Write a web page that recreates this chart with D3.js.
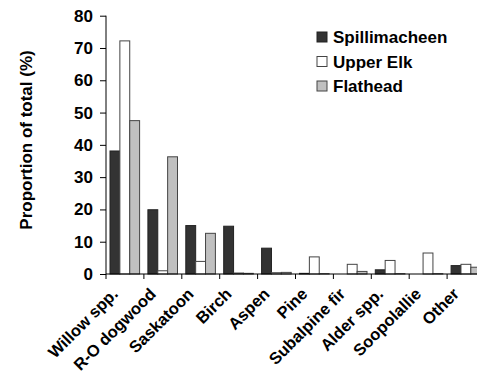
<!DOCTYPE html>
<html><head><meta charset="utf-8">
<script src="https://cdn.jsdelivr.net/npm/d3@7"></script>
<style>body{margin:0;background:#fff;} svg{display:block;font-family:Arial,"Liberation Sans",sans-serif;}</style>
</head><body>
<svg id="c" width="477" height="381"></svg>
<script>
const categories = ["Willow spp.","R-O dogwood","Saskatoon","Birch","Aspen","Pine","Subalpine fir","Alder spp.","Soopolallie","Other"];
const seriesNames = ["Spillimacheen","Upper Elk","Flathead"];
const spillimacheen = [38.1,19.9,15.0,14.8,8.0,0.2,0,1.3,0,2.6];
const upperElk = [72.2,1.0,3.9,0.3,0.4,5.3,3.0,4.2,6.5,3.0];
const flathead = [47.5,36.3,12.6,0.2,0.5,0.1,0.8,0.1,0.1,2.1];
const yTicks = [0,10,20,30,40,50,60,70,80];

const seriesValues = [spillimacheen, upperElk, flathead];
const fills = ["#333333","#ffffff","#c0c0c0"];
const strokes = ["#222222","#444444","#444444"];

const svg = d3.select("#c");
const y = d3.scaleLinear().domain([0,80]).range([274,15.7]);
const x = d3.scaleBand().domain(categories).range([106,106+37.9*10]).padding(0);
const xs = d3.scaleBand().domain(seriesNames).range([4,33.6]).padding(0);

// bars
const g = svg.append("g");
categories.forEach((c,i)=>{
  seriesNames.forEach((s,j)=>{
    const v = seriesValues[j][i];
    g.append("rect")
      .attr("x", x(c)+xs(s))
      .attr("y", y(v))
      .attr("width", xs.bandwidth())
      .attr("height", Math.max(0, y(0)-y(v)))
      .attr("fill", fills[j])
      .attr("stroke", strokes[j])
      .attr("stroke-width", 1);
  });
});

// y axis
const yAxis = svg.append("g").attr("transform","translate(106,0)")
  .call(d3.axisLeft(y).tickValues(yTicks).tickSize(6).tickPadding(7));
yAxis.selectAll("text").attr("font-size",17).attr("font-weight","bold").attr("fill","#000").attr("font-family","Arial, 'Liberation Sans', sans-serif");
yAxis.selectAll("line,path").attr("stroke","#000");
yAxis.select(".domain").attr("d","M0,274V15.7");

// x axis
const xAxisG = svg.append("g").attr("transform","translate(0,274)");
xAxisG.append("line").attr("x1",106).attr("x2",106+37.9*10).attr("stroke","#000");
xAxisG.selectAll("line.t").data(categories.concat(["_end"])).enter().append("line")
  .attr("class","t")
  .attr("x1",(d,i)=> 106 + i*x.bandwidth())
  .attr("x2",(d,i)=> 106 + i*x.bandwidth())
  .attr("y1",0).attr("y2",5).attr("stroke","#000");

svg.append("g").selectAll("text").data(categories).enter().append("text")
  .attr("transform", d=>`translate(${x(d)+x.bandwidth()/2-6},295) rotate(-45)`)
  .attr("text-anchor","end")
  .attr("font-size",16.5).attr("font-weight","bold")
  .text(d=>d);

// y title
svg.append("text")
  .attr("transform","translate(32,140) rotate(-90)")
  .attr("text-anchor","middle")
  .attr("font-size",17).attr("font-weight","bold")
  .text("Proportion of total (%)");

// legend
const lg = svg.append("g");
seriesNames.forEach((s,j)=>{
  const cy = 37 + j*24.5;
  lg.append("rect").attr("x",317).attr("y",cy-5).attr("width",10).attr("height",10)
    .attr("fill",fills[j]).attr("stroke",strokes[j]);
  lg.append("text").attr("x",333).attr("y",cy).attr("dy","0.36em")
    .attr("font-size",17).attr("font-weight","bold").text(s);
});
</script>
</body></html>
